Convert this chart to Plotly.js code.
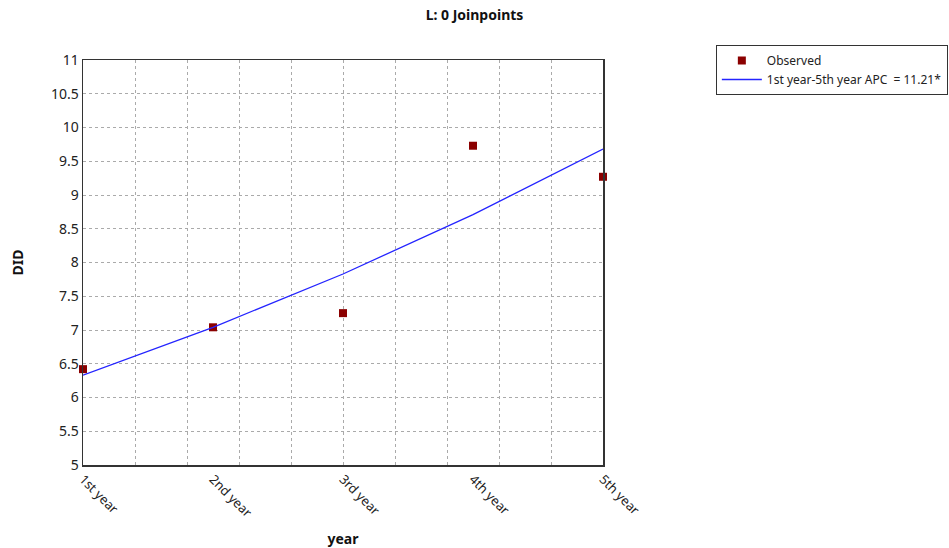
<!DOCTYPE html>
<html>
<head>
<meta charset="utf-8">
<script src="https://cdn.plot.ly/plotly-3.0.1.min.js"></script>
<style>html,body{margin:0;padding:0;background:#fff;}#chart{width:949px;height:548px;}</style>
</head>
<body>
<div id="chart"></div>
<script>
const yearPos = [1, 2, 3, 4, 5];
const yearLabels = ["1st year", "2nd year", "3rd year", "4th year", "5th year"];
const observed = [6.42, 7.04, 7.25, 9.73, 9.27];
const fitted = [6.33, 7.04, 7.83, 8.71, 9.68];
const fitName = "1st year-5th year APC  = 11.21*";

const font = "Noto Sans, Open Sans, sans-serif";

const traces = [
  {
    x: yearPos, y: observed, type: "scatter", mode: "markers", name: "Observed",
    marker: {symbol: "square", size: 8, color: "#8b0000"}, cliponaxis: false
  },
  {
    x: yearPos, y: fitted, type: "scatter", mode: "lines", name: fitName,
    line: {color: "#2424ff", width: 1.3}
  }
];

const layout = {
  width: 949, height: 548,
  margin: {l: 83, r: 346, t: 60, b: 83, autoexpand: false},
  paper_bgcolor: "#fff", plot_bgcolor: "#fff",
  font: {family: font, color: "#222", size: 13},
  title: {text: "<b>L: 0 Joinpoints</b>", x: 0.5, xref: "container", xanchor: "center",
          y: 0.972, yanchor: "middle",
          font: {size: 14, family: font, color: "#111"}},
  xaxis: {
    range: [1, 5], tickmode: "array", tickvals: yearPos, ticktext: yearLabels,
    tickangle: 45, showgrid: false, zeroline: false, automargin: false,
    showline: true, mirror: true, linecolor: "#333", linewidth: 1.5,
    ticks: "", tickfont: {size: 13, family: font, color: "#222"},
    minor: {dtick: 0.4, tick0: 1, showgrid: true, gridcolor: "#aaa", griddash: "dot", gridwidth: 1},
    title: {text: "<b>year</b>", font: {size: 14, family: font, color: "#111"}, standoff: 28}
  },
  yaxis: {
    range: [5, 11], dtick: 0.5, tick0: 5, showgrid: true, gridcolor: "#aaa", griddash: "dot",
    zeroline: false, showline: true, mirror: true, linecolor: "#333", linewidth: 1.5, automargin: false,
    ticks: "", tickfont: {size: 14, family: font, color: "#222"},
    title: {text: "<b>DID</b>", font: {size: 14, family: font, color: "#111"}, standoff: 24}
  },
  showlegend: true,
  legend: {
    x: 1.217, y: 1.037, xanchor: "left", yanchor: "top",
    bordercolor: "#333", borderwidth: 1, bgcolor: "#fff",
    font: {size: 12, family: font, color: "#222"}, tracegroupgap: 0,
    itemwidth: 40
  }
};

Plotly.newPlot("chart", traces, layout, {displayModeBar: false, staticPlot: true});
</script>
</body>
</html>
